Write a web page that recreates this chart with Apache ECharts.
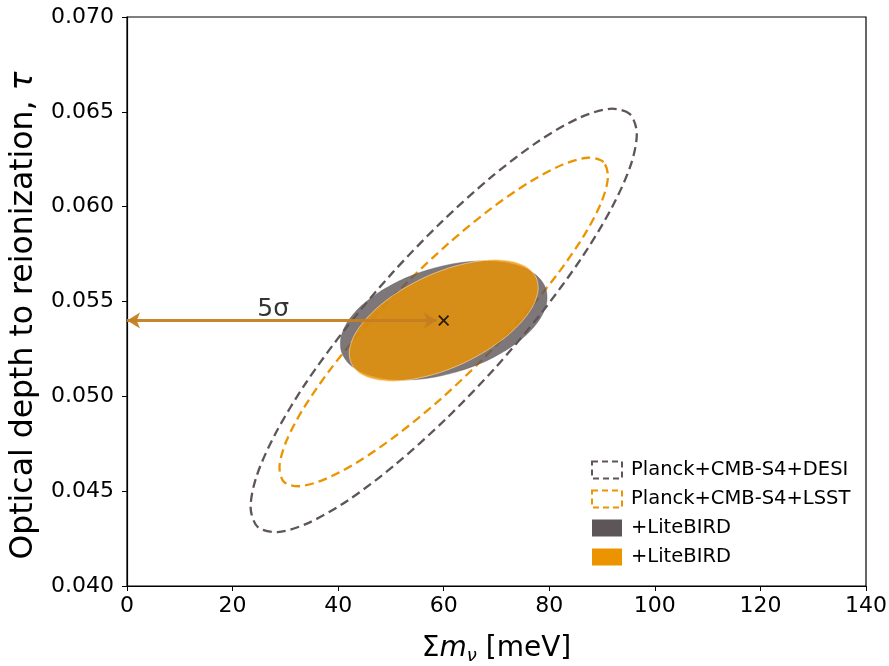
<!DOCTYPE html>
<html>
<head>
<meta charset="utf-8">
<script src="https://cdn.jsdelivr.net/npm/echarts@6/dist/echarts.min.js"></script>
<style>html,body{margin:0;padding:0;background:#fff}#c{width:889px;height:666px}</style>
</head>
<body>
<div id="c"></div>
<script>
// ---- data ----
var xTicks = [0, 20, 40, 60, 80, 100, 120, 140];
var yTicks = [0.040, 0.045, 0.050, 0.055, 0.060, 0.065, 0.070];

// Planck+CMB-S4+DESI forecast contour (dashed grey), points traced around the outline
var desiContour = [
  [95.23,0.06489],[91.48,0.06516],[85.58,0.06467],[77.95,0.06345],[69.09,0.06158],[59.61,0.05920],
  [50.15,0.05647],[41.37,0.05356],[33.85,0.05069],[28.13,0.04804],[24.56,0.04580],[23.42,0.04412],
  [24.77,0.04311],[28.52,0.04284],[34.42,0.04333],[42.05,0.04455],[50.91,0.04642],[60.39,0.04880],
  [69.85,0.05153],[78.63,0.05444],[86.15,0.05731],[91.87,0.05996],[95.44,0.06220],[96.58,0.06388]
];
// Planck+CMB-S4+LSST forecast contour (dashed orange)
var lsstContour = [
  [90.27,0.06235],[87.37,0.06258],[82.59,0.06222],[76.29,0.06130],[68.88,0.05988],[60.85,0.05805],
  [52.77,0.05593],[45.19,0.05369],[38.60,0.05145],[33.49,0.04939],[30.17,0.04763],[28.89,0.04630],
  [29.73,0.04549],[32.63,0.04526],[37.41,0.04562],[43.71,0.04654],[51.12,0.04796],[59.15,0.04979],
  [67.23,0.05191],[74.81,0.05415],[81.40,0.05639],[86.51,0.05845],[89.83,0.06021],[91.11,0.06154]
];
// +LiteBIRD on DESI (filled grey)
var desiLiteContour = [
  [79.38,0.05565],[77.96,0.05628],[75.31,0.05676],[71.62,0.05705],[67.14,0.05714],[62.18,0.05701],
  [57.06,0.05667],[52.14,0.05616],[47.76,0.05549],[44.22,0.05473],[41.75,0.05391],[40.52,0.05310],
  [40.62,0.05236],[42.04,0.05172],[44.69,0.05124],[48.38,0.05095],[52.86,0.05086],[57.82,0.05099],
  [62.94,0.05133],[67.86,0.05184],[72.24,0.05251],[75.78,0.05327],[78.25,0.05409],[79.48,0.05490]
];
// +LiteBIRD on LSST (filled orange)
var lsstLiteContour = [
  [77.50,0.05627],[75.92,0.05678],[73.27,0.05709],[69.70,0.05720],[65.49,0.05708],[60.89,0.05676],
  [56.23,0.05625],[51.83,0.05558],[47.99,0.05481],[44.96,0.05398],[42.95,0.05316],[42.12,0.05239],
  [42.50,0.05173],[44.08,0.05122],[46.73,0.05091],[50.30,0.05080],[54.51,0.05092],[59.11,0.05124],
  [63.77,0.05175],[68.17,0.05242],[72.01,0.05319],[75.04,0.05402],[77.05,0.05484],[77.88,0.05561]
];
var fiducial = [[60, 0.054]];
var arrowStart = [0, 0.054];
var arrowEnd = [58.7, 0.054];
var sigmaLabelPos = [[27.7, 0.0546]];
var sigmaText = '5σ';

var seriesNames = ['Planck+CMB-S4+DESI', 'Planck+CMB-S4+LSST', '+LiteBIRD', '+LiteBIRD '];

// ---- styling ----
var GREY = '#5e5558', ORANGE = '#ec9400';
var FONT = 'DejaVu Sans';

function contourSeries(name, pts, style, z) {
  return {
    type: 'custom', name: name, coordinateSystem: 'cartesian2d', data: pts, z: z, silent: true,
    encode: { x: 0, y: 1 },
    renderItem: function (params, api) {
      if (params.dataIndex !== 0) return null;
      var coords = pts.map(function (p) { return api.coord(p); });
      return { type: 'polygon', shape: { points: coords, smooth: 0.3 }, style: style };
    }
  };
}

var chart = echarts.init(document.getElementById('c'), null, { renderer: 'canvas' });
chart.setOption({
  animation: false,
  backgroundColor: '#ffffff',
  grid: { left: 127, right: 23, top: 17, bottom: 80, show: true, borderColor: '#000', borderWidth: 1.2, outerBoundsMode: 'none' },
  xAxis: {
    type: 'value', min: xTicks[0], max: xTicks[xTicks.length - 1], interval: 20,
    name: '{s|Σ}{m|m}{sub|ν} {n|[meV]}', nameLocation: 'middle', nameGap: 47,
    nameTextStyle: {
      fontFamily: FONT, fontSize: 28, color: '#000',
      rich: {
        s: { fontFamily: FONT, fontSize: 28, color: '#000' },
        m: { fontFamily: FONT, fontSize: 28, fontStyle: 'italic', color: '#000' },
        sub: { fontFamily: FONT, fontSize: 18, fontStyle: 'italic', color: '#000', padding: [14, 0, 0, 0] },
        n: { fontFamily: FONT, fontSize: 28, color: '#000' }
      }
    },
    axisLine: { show: true, lineStyle: { color: '#000', width: 1.2 } },
    axisTick: { show: true, inside: false, length: 5, lineStyle: { color: '#000' } },
    axisLabel: { fontFamily: FONT, fontSize: 22, color: '#000', margin: 9 },
    splitLine: { show: false }
  },
  yAxis: {
    type: 'value', min: yTicks[0], max: yTicks[yTicks.length - 1], interval: 0.005,
    name: 'Optical depth to reionization, {t|τ}', nameLocation: 'middle', nameGap: 80,
    nameTextStyle: {
      fontFamily: FONT, fontSize: 31.5, color: '#000', padding: [0, 28, 0, 0],
      rich: { t: { fontFamily: FONT, fontSize: 31.5, fontStyle: 'italic', color: '#000' } }
    },
    axisLine: { show: true, lineStyle: { color: '#000', width: 1.2 } },
    axisTick: { show: true, inside: false, length: 5, lineStyle: { color: '#000' } },
    axisLabel: { fontFamily: FONT, fontSize: 22, color: '#000', margin: 13,
      formatter: function (v) { return v.toFixed(3); } },
    splitLine: { show: false }
  },
  legend: {
    orient: 'vertical', left: 586, top: 455, itemWidth: 30, itemHeight: 17, itemGap: 9,
    textStyle: { fontFamily: FONT, fontSize: 19.5, color: '#000', padding: [0, 0, 0, 4] },
    selectedMode: false,
    data: [
      { name: seriesNames[0], icon: 'rect', itemStyle: { color: 'rgba(0,0,0,0)', borderColor: GREY, borderWidth: 2, borderType: [6, 4] } },
      { name: seriesNames[1], icon: 'rect', itemStyle: { color: 'rgba(0,0,0,0)', borderColor: ORANGE, borderWidth: 2, borderType: [6, 4] } },
      { name: seriesNames[2], icon: 'rect', itemStyle: { color: GREY, borderWidth: 0 } },
      { name: seriesNames[3], icon: 'rect', itemStyle: { color: ORANGE, borderWidth: 0 } }
    ]
  },
  series: [
    contourSeries(seriesNames[0], desiContour, { fill: 'none', stroke: GREY, lineWidth: 2.3, lineDash: [9, 5] }, 2),
    contourSeries(seriesNames[1], lsstContour, { fill: 'none', stroke: ORANGE, lineWidth: 2.3, lineDash: [9, 5] }, 2),
    contourSeries(seriesNames[2], desiLiteContour, { fill: 'rgba(94,85,88,0.8)', stroke: 'rgba(94,85,88,0.4)', lineWidth: 1 }, 3),
    contourSeries(seriesNames[3], lsstLiteContour, { fill: 'rgba(236,148,0,0.8)', stroke: 'rgba(255,225,180,0.6)', lineWidth: 1 }, 4),
    {
      type: 'scatter', name: 'fiducial', data: fiducial, z: 6, silent: true,
      symbol: 'path://M0,1.2L1.2,0L5,3.8L8.8,0L10,1.2L6.2,5L10,8.8L8.8,10L5,6.2L1.2,10L0,8.8L3.8,5Z',
      symbolSize: 11, itemStyle: { color: '#000' },
      markLine: {
        silent: true, symbol: ['arrow', 'arrow'], symbolSize: [12, 13],
        label: { show: false },
        lineStyle: { color: '#c47e22', width: 3, type: 'solid', opacity: 0.95 },
        data: [[{ coord: arrowStart }, { coord: arrowEnd }]]
      }
    },
    {
      type: 'scatter', name: 'label', data: sigmaLabelPos, symbolSize: 0, z: 7, silent: true,
      label: { show: true, position: 'inside', formatter: function () { return sigmaText; },
        fontFamily: FONT, fontSize: 25, color: '#000' }
    }
  ]
});
</script>
</body>
</html>
